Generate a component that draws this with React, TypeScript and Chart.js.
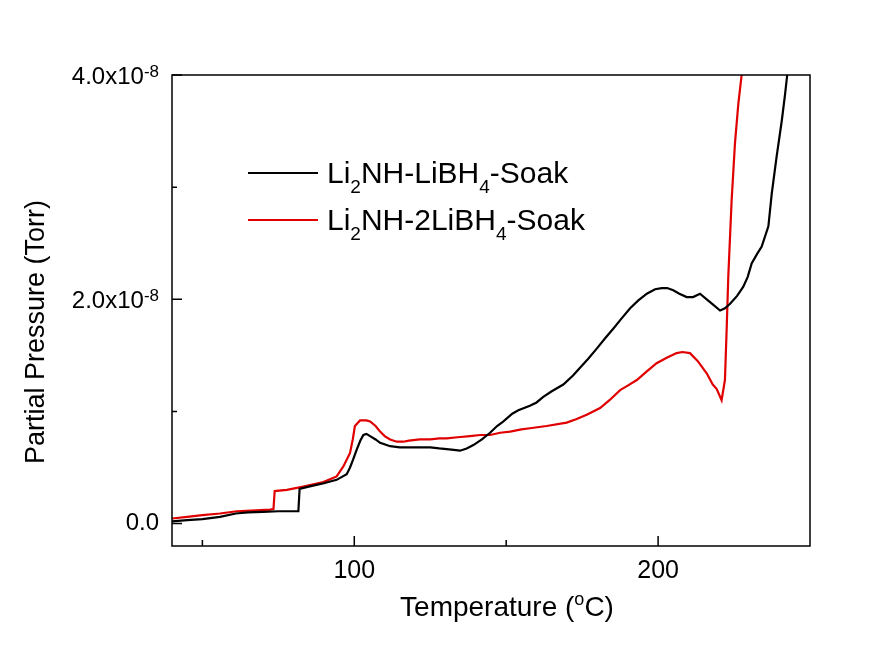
import React, { useEffect, useRef } from "react";
import { Chart, registerables } from "chart.js";

Chart.register(...registerables);

// Pressure values are stored in units of 1e-8 Torr
const SERIES_NAMES = ["Li2NH-LiBH4-Soak", "Li2NH-2LiBH4-Soak"];

const BLACK_T = [40, 45, 50, 55.8, 61, 65, 70, 75, 80, 81.6, 82.0, 85, 90, 94.2, 97.5, 98.6, 99.6, 100.8, 102, 103, 104, 105.2, 107, 108.5, 111.8, 115, 120, 125, 128, 132, 134.8, 137, 139.2, 142, 144.7, 147, 149, 152, 154, 157.8, 160, 162.2, 165, 168.8, 172, 174.3, 177, 179.8, 182.5, 185.3, 188, 190.8, 193.5, 196.3, 199, 201.2, 203, 205, 207, 209.4, 211.5, 213.8, 216, 218.2, 220.4, 222, 223.7, 226, 228, 229.5, 230.8, 232.5, 234.1, 236.3, 237.4, 239, 240.7, 241.8, 242.5, 243.5];
const BLACK_P = [0.02, 0.03, 0.04, 0.06, 0.09, 0.10, 0.105, 0.11, 0.11, 0.11, 0.31, 0.33, 0.36, 0.39, 0.44, 0.50, 0.57, 0.66, 0.74, 0.79, 0.80, 0.78, 0.75, 0.72, 0.69, 0.68, 0.68, 0.68, 0.67, 0.66, 0.65, 0.67, 0.70, 0.75, 0.81, 0.87, 0.91, 0.98, 1.01, 1.05, 1.08, 1.13, 1.18, 1.24, 1.32, 1.39, 1.47, 1.56, 1.65, 1.74, 1.83, 1.92, 1.99, 2.05, 2.09, 2.10, 2.10, 2.08, 2.05, 2.02, 2.02, 2.05, 2.00, 1.95, 1.90, 1.92, 1.96, 2.03, 2.11, 2.20, 2.32, 2.40, 2.47, 2.65, 2.94, 3.27, 3.59, 3.83, 4.0, 4.3];

const RED_T = [40, 45, 50, 55.8, 61.3, 66, 72.3, 73.4, 73.8, 77.8, 83.2, 89.8, 94.2, 96.4, 98.6, 99.5, 100.2, 101.9, 104, 105.2, 107, 108.5, 110, 111.8, 114, 116.1, 118, 121.6, 125, 128, 130.4, 134, 138.1, 141.4, 144.7, 148, 151.3, 155, 157.8, 163.3, 169.9, 173, 176.5, 180.9, 184, 187.5, 190, 193, 196, 199.5, 203, 206.1, 208, 210.5, 213, 216, 218, 219.3, 220.9, 222, 222.6, 223.1, 224.2, 225.3, 226.4, 227.5, 228.2];
const RED_P = [0.045, 0.06, 0.075, 0.09, 0.11, 0.115, 0.125, 0.13, 0.29, 0.30, 0.33, 0.37, 0.42, 0.51, 0.63, 0.75, 0.87, 0.92, 0.92, 0.91, 0.87, 0.82, 0.78, 0.75, 0.73, 0.73, 0.74, 0.75, 0.75, 0.76, 0.76, 0.77, 0.78, 0.79, 0.79, 0.81, 0.82, 0.84, 0.85, 0.87, 0.90, 0.93, 0.97, 1.03, 1.10, 1.19, 1.23, 1.28, 1.35, 1.43, 1.48, 1.52, 1.53, 1.52, 1.45, 1.34, 1.24, 1.20, 1.10, 1.28, 1.76, 2.2, 2.88, 3.39, 3.74, 4.0, 4.3];

const X_MAJOR = [100, 200];
const X_MINOR = [50, 150];
const Y_MAJOR = [0, 2, 4];
const Y_MINOR = [1, 3];
const Y_LABELS = ["0.0", "2.0x10", "4.0x10"];
const Y_EXP = ["", "-8", "-8"];

const FONT = "'Liberation Sans', Arial, sans-serif";

type Part = { t: string; size: number; dy: number };

function drawParts(ctx: CanvasRenderingContext2D, parts: Part[], x: number, y: number, align: "left" | "center" | "right") {
  let w = 0;
  for (const p of parts) {
    ctx.font = `${p.size}px ${FONT}`;
    w += ctx.measureText(p.t).width;
  }
  let cx = align === "left" ? x : align === "center" ? x - w / 2 : x - w;
  ctx.textAlign = "left";
  ctx.textBaseline = "alphabetic";
  for (const p of parts) {
    ctx.font = `${p.size}px ${FONT}`;
    ctx.fillText(p.t, cx, y + p.dy);
    cx += ctx.measureText(p.t).width;
  }
}

const decorPlugin = {
  id: "decor",
  afterDraw(chart: any) {
    const ctx: CanvasRenderingContext2D = chart.ctx;
    const { left, right, top, bottom } = chart.chartArea;
    const xs = chart.scales.x;
    const ys = chart.scales.y;
    ctx.save();
    ctx.strokeStyle = "#000";
    ctx.fillStyle = "#000";
    // frame
    ctx.lineWidth = 1.5;
    ctx.strokeRect(left, top, right - left, bottom - top);
    // ticks
    ctx.beginPath();
    for (const v of X_MAJOR) {
      const px = xs.getPixelForValue(v);
      ctx.moveTo(px, bottom);
      ctx.lineTo(px, bottom - 10);
    }
    for (const v of X_MINOR) {
      const px = xs.getPixelForValue(v);
      ctx.moveTo(px, bottom);
      ctx.lineTo(px, bottom - 6);
    }
    for (const v of Y_MAJOR) {
      const py = ys.getPixelForValue(v);
      ctx.moveTo(left, py);
      ctx.lineTo(left + 10, py);
    }
    for (const v of Y_MINOR) {
      const py = ys.getPixelForValue(v);
      ctx.moveTo(left, py);
      ctx.lineTo(left + 5, py);
    }
    ctx.stroke();

    // x tick labels
    for (const v of X_MAJOR) {
      const px = xs.getPixelForValue(v);
      drawParts(ctx, [{ t: String(v), size: 25, dy: 0 }], px, bottom + 32, "center");
    }
    // y tick labels
    Y_MAJOR.forEach((v, i) => {
      const py = ys.getPixelForValue(v);
      const parts: Part[] = [{ t: Y_LABELS[i], size: 24, dy: 0 }];
      if (Y_EXP[i]) parts.push({ t: Y_EXP[i], size: 17, dy: -7 });
      drawParts(ctx, parts, left - 13, py + (i === 0 ? 6 : 9), "right");
    });

    // x title
    drawParts(
      ctx,
      [
        { t: "Temperature (", size: 28, dy: 0 },
        { t: "o", size: 18, dy: -11 },
        { t: "C)", size: 28, dy: 0 },
      ],
      (left + right) / 2 + 16,
      bottom + 70,
      "center"
    );

    // y title
    ctx.save();
    ctx.translate(44, 332);
    ctx.rotate(-Math.PI / 2);
    drawParts(ctx, [{ t: "Partial Pressure (Torr)", size: 27, dy: 0 }], 0, 0, "center");
    ctx.restore();

    // legend
    const legendItems = [
      { color: "#000000", parts: [
        { t: "Li", size: 30, dy: 0 }, { t: "2", size: 19, dy: 10 }, { t: "NH-LiBH", size: 30, dy: 0 }, { t: "4", size: 19, dy: 10 }, { t: "-Soak", size: 30, dy: 0 },
      ] },
      { color: "#e00000", parts: [
        { t: "Li", size: 30, dy: 0 }, { t: "2", size: 19, dy: 10 }, { t: "NH-2LiBH", size: 30, dy: 0 }, { t: "4", size: 19, dy: 10 }, { t: "-Soak", size: 30, dy: 0 },
      ] },
    ];
    legendItems.forEach((it, i) => {
      const ly = 173 + i * 47;
      ctx.strokeStyle = it.color;
      ctx.lineWidth = 2;
      ctx.beginPath();
      ctx.moveTo(248, ly);
      ctx.lineTo(318, ly);
      ctx.stroke();
      ctx.fillStyle = "#000";
      drawParts(ctx, it.parts, 327, ly + 10, "left");
    });
    ctx.restore();
  },
};

export default function App() {
  const ref = useRef<HTMLCanvasElement | null>(null);
  useEffect(() => {
    document.body.style.margin = "0";
    document.body.style.overflow = "hidden";
    const canvas = ref.current!;
    const chart = new Chart(canvas, {
      type: "line",
      data: {
        datasets: [
          {
            label: SERIES_NAMES[0],
            data: BLACK_T.map((t, i) => ({ x: t, y: BLACK_P[i] })),
            borderColor: "#000000",
            borderWidth: 2.2,
            pointRadius: 0,
            tension: 0,
          },
          {
            label: SERIES_NAMES[1],
            data: RED_T.map((t, i) => ({ x: t, y: RED_P[i] })),
            borderColor: "#e00000",
            borderWidth: 2.2,
            pointRadius: 0,
            tension: 0,
          },
        ],
      },
      options: {
        animation: false,
        responsive: false,
        maintainAspectRatio: false,
        layout: { padding: { left: 172, right: 63, top: 75, bottom: 122 } },
        plugins: { legend: { display: false }, tooltip: { enabled: false } },
        scales: {
          x: { type: "linear", min: 40, max: 250, display: false },
          y: { type: "linear", min: -0.2, max: 4.0, display: false },
        },
      },
      plugins: [decorPlugin],
    });
    return () => chart.destroy();
  }, []);
  return (
    <div style={{ width: 873, height: 668, background: "#fff" }}>
      <canvas ref={ref} width={873} height={668} style={{ display: "block" }} />
    </div>
  );
}
